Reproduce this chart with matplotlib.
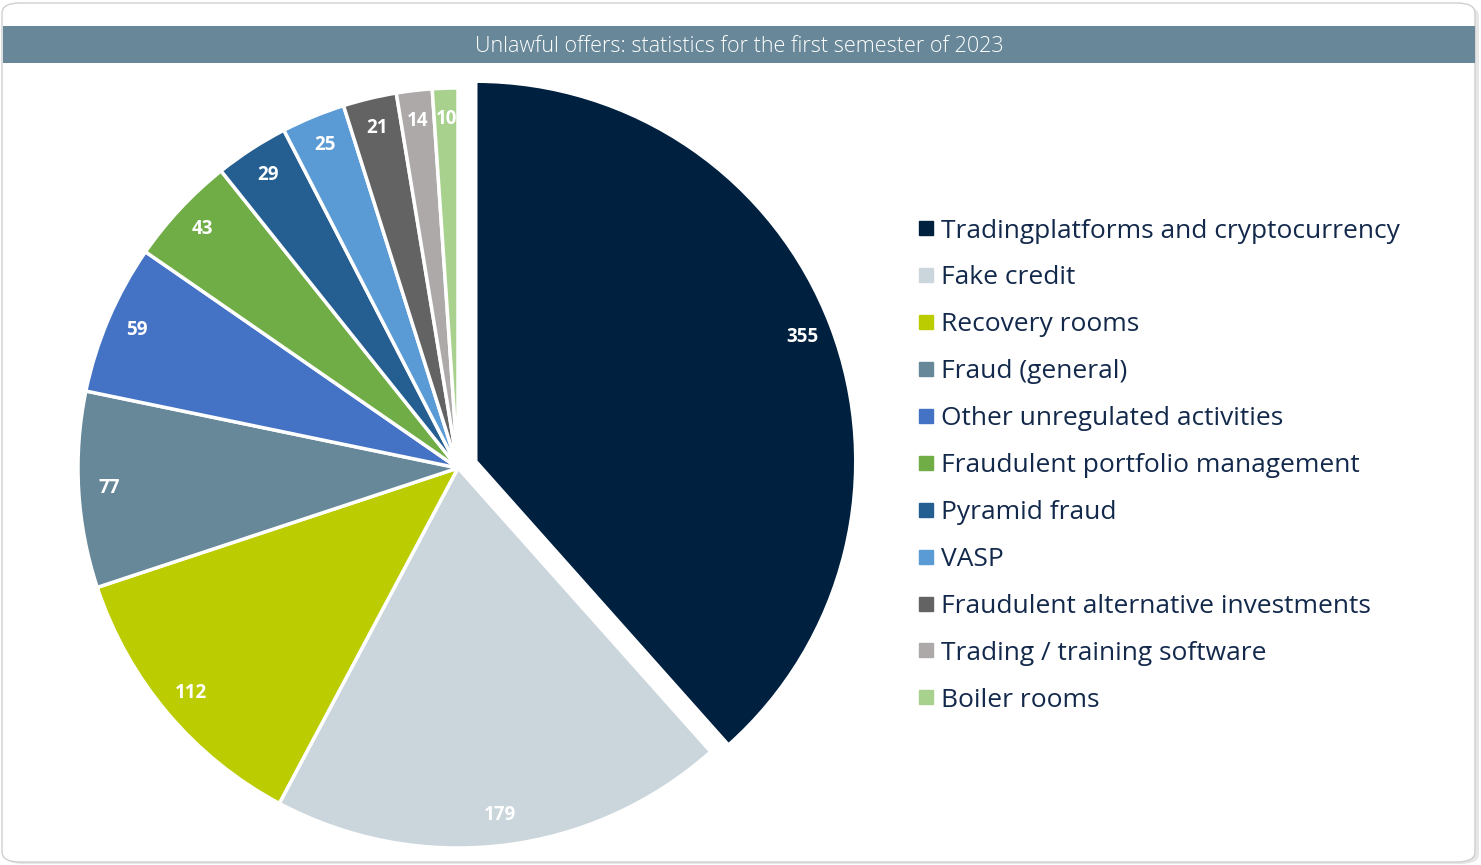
import matplotlib
matplotlib.use("Agg")
import matplotlib.pyplot as plt
from matplotlib.patches import FancyBboxPatch, Rectangle
from matplotlib.lines import Line2D

categories = ["Tradingplatforms and cryptocurrency", "Fake credit", "Recovery rooms",
              "Fraud (general)", "Other unregulated activities", "Fraudulent portfolio management",
              "Pyramid fraud", "VASP", "Fraudulent alternative investments",
              "Trading / training software", "Boiler rooms"]
values = [355, 179, 112, 77, 59, 43, 29, 25, 21, 14, 10]
colors = ["#00203F", "#CAD5DC", "#BBCC00", "#668899", "#4472C4", "#70AD47",
          "#255E91", "#5B9BD5", "#636363", "#ADA9A9", "#A9D18E"]
title = "Unlawful offers: statistics for the first semester of 2023"

W, H = 1481, 865
fig = plt.figure(figsize=(W / 100, H / 100), dpi=100)
fig.patch.set_facecolor("white")

# card border + shadow
fig.patches.append(FancyBboxPatch((5 / W, 1 / H), 1474 / W, 858 / H,
                                  boxstyle="round,pad=0,rounding_size=0.012",
                                  transform=fig.transFigure, facecolor="#E6E6E6",
                                  edgecolor="none", zorder=-2))
fig.patches.append(FancyBboxPatch((2 / W, 3 / H), 1473 / W, 859 / H,
                                  boxstyle="round,pad=0,rounding_size=0.012",
                                  transform=fig.transFigure, facecolor="white",
                                  edgecolor="#CFCFCF", linewidth=1, zorder=-1))
# title bar
fig.patches.append(Rectangle((3 / W, 1 - 63 / H), 1472 / W, 37 / H,
                             transform=fig.transFigure, facecolor="#688899",
                             edgecolor="none", zorder=1))
fig.text(739 / W, 1 - 46 / H, title, ha="center", va="center", color="white",
         fontsize=15.5, family="Open Sans", fontweight="light", zorder=2)

# pie
cx, cy, r = 458, 468, 380
ax = fig.add_axes([(cx - r) / W, 1 - (cy + r) / H, 2 * r / W, 2 * r / H])
ax.set_zorder(3)
ax.patch.set_visible(False)
explode = [0.05] + [0] * (len(values) - 1)
wedges, texts = ax.pie(values, colors=colors, startangle=90, counterclock=False,
                       explode=explode, radius=1, labels=[str(v) for v in values],
                       labeldistance=0.92,
                       wedgeprops=dict(edgecolor="white", linewidth=2.5),
                       textprops=dict(color="white", fontsize=13.5, fontweight="bold",
                                      family="Open Sans"))
ax.set_xlim(-1, 1)
ax.set_ylim(-1, 1)
ax.set_aspect("equal")
ax.axis("off")
for w in wedges:
    w.set_clip_on(False)
for t in texts:
    t.set_ha("center")
    t.set_va("center")
    t.set_clip_on(False)

handles = [Line2D([], [], marker="s", linestyle="", markersize=10, color=c) for c in colors]
leg = fig.legend(handles, categories, loc="upper left",
                 bbox_to_anchor=(905 / W, 1 - 208 / H), frameon=False,
                 prop=dict(family="Open Sans", size=19), labelspacing=0.83,
                 handlelength=0.8, handletextpad=0.15, borderaxespad=0)
leg.set_zorder(4)
for t in leg.get_texts():
    t.set_color("#13294B")

fig.savefig("out.png", dpi=100)
